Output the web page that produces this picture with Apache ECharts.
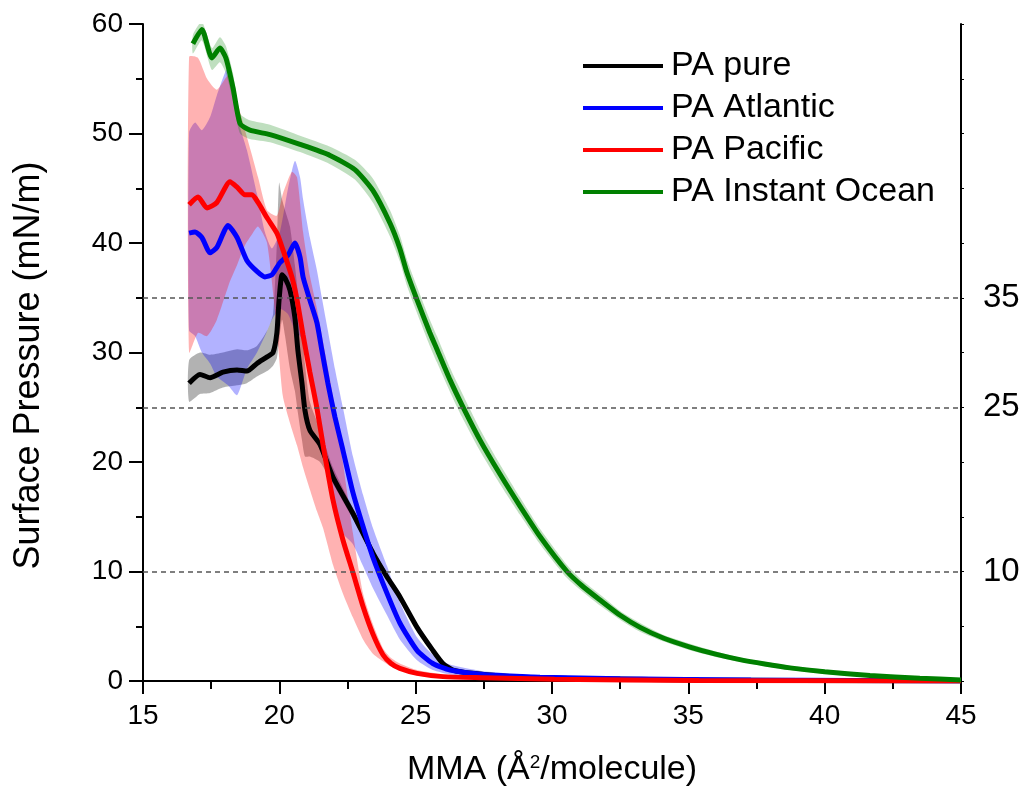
<!DOCTYPE html>
<html>
  <head>
    <meta charset="utf-8" />
    <title>PA isotherms</title>
    <style>
      body { margin: 0; background: #fff; }
    </style>
  </head>
  <body>
    <div id="main" style="width: 1022px; height: 786px"></div>
    <script type="text/javascript" src="https://cdn.jsdelivr.net/npm/echarts/dist/echarts.min.js"></script>
    <script type="text/javascript">
      // PA pure
      var pureX = [16.69, 17.09, 17.46, 17.93, 18.45, 18.81, 19.18, 19.55, 19.77, 19.91, 19.99, 20.1, 20.21, 20.39, 20.57, 20.68, 20.83, 20.94, 21.12, 21.49, 21.97, 22.7, 23.43, 23.95, 24.42, 25.05, 25.63, 26.0, 26.37, 27.1, 28.8, 31.76, 35.4, 39.1, 45];
      var pureY = [27.2, 28.0, 27.7, 28.2, 28.4, 28.3, 29.0, 29.6, 30.0, 31.8, 34.8, 37.1, 36.8, 35.7, 33.2, 30.2, 27.2, 24.7, 22.9, 21.6, 18.6, 15.3, 11.7, 9.5, 7.7, 4.9, 2.8, 1.6, 1.0, 0.7, 0.35, 0.2, 0.1, 0.05, 0];
      var pureLo = [25.5, 26.2, 26.3, 26.8, 27.0, 27.2, 27.8, 28.3, 28.8, 29.5, 31.0, 33.0, 31.5, 28.5, 26.5, 24.5, 22.0, 20.5, 20.5, 20.0, 18.0, 14.8, 11.3, 9.1, 7.3, 4.6, 2.5, 1.4, 0.8, 0.55, 0.25, 0.1, 0.05, 0, 0];
      var pureHi = [29.3, 30.0, 29.8, 30.0, 30.3, 30.2, 30.6, 32.0, 33.5, 40.0, 45.5, 44.0, 43.0, 41.5, 38.0, 35.5, 32.5, 29.0, 25.5, 23.0, 19.5, 15.8, 12.1, 9.9, 8.1, 5.2, 3.1, 1.8, 1.2, 0.85, 0.45, 0.3, 0.15, 0.1, 0];

      // PA Atlantic
      var atlX = [16.69, 16.91, 17.16, 17.46, 17.71, 18.12, 18.45, 18.81, 19.18, 19.47, 19.73, 20.02, 20.32, 20.57, 20.76, 20.87, 21.12, 21.38, 21.56, 21.78, 22.04, 22.33, 22.7, 23.07, 23.43, 23.95, 24.42, 25.05, 25.63, 26.26, 27.47, 29.56, 32.5, 37.3, 45];
      var atlY = [40.9, 41.0, 40.5, 39.1, 39.6, 41.6, 40.5, 38.4, 37.4, 36.9, 37.1, 38.2, 38.9, 40.0, 38.7, 36.9, 34.8, 32.7, 30.2, 27.2, 24.1, 21.1, 17.2, 14.1, 11.3, 8.0, 5.3, 2.8, 1.6, 1.0, 0.6, 0.35, 0.2, 0.1, 0];
      var atlLo = [32.0, 31.5, 30.0, 29.0, 27.8, 27.0, 26.1, 28.5, 30.0, 31.5, 33.0, 34.0, 33.5, 32.0, 31.5, 31.0, 28.0, 25.0, 22.5, 19.5, 16.0, 13.5, 12.5, 10.5, 8.5, 6.0, 3.8, 1.9, 1.0, 0.6, 0.35, 0.2, 0.1, 0.05, 0];
      var atlHi = [50.1, 51.0, 50.3, 51.5, 53.5, 56.0, 51.5, 48.5, 44.5, 41.0, 39.5, 41.0, 45.0, 47.5, 46.0, 44.0, 40.5, 37.5, 35.0, 32.0, 28.5, 25.0, 20.5, 17.0, 14.0, 10.5, 7.2, 4.0, 2.4, 1.5, 0.9, 0.55, 0.35, 0.2, 0.05];

      // PA Pacific
      var pacX = [16.69, 17.02, 17.35, 17.71, 18.19, 18.45, 18.74, 19.0, 19.22, 19.55, 19.91, 20.13, 20.46, 20.65, 20.87, 21.12, 21.38, 21.6, 21.97, 22.33, 22.7, 23.07, 23.43, 23.8, 24.1, 24.42, 25.05, 26.0, 27.47, 30.1, 35.4, 45];
      var pacY = [43.5, 44.2, 43.2, 43.7, 45.6, 45.1, 44.4, 44.4, 43.7, 42.3, 40.9, 39.4, 36.9, 34.8, 31.6, 28.2, 24.9, 21.6, 16.5, 12.9, 9.9, 6.8, 4.3, 2.4, 1.6, 1.15, 0.7, 0.4, 0.3, 0.15, 0.05, 0];
      var pacLo = [30.0, 31.8, 31.5, 33.0, 36.5, 38.0, 39.8, 40.8, 41.5, 40.0, 32.0, 26.0, 23.0, 21.5, 19.5, 17.5, 15.5, 14.0, 10.6, 8.0, 5.8, 3.8, 2.5, 1.8, 1.3, 1.0, 0.5, 0.3, 0.2, 0.1, 0, 0];
      var pacHi = [57.0, 56.9, 55.0, 54.0, 55.5, 53.0, 50.3, 48.0, 46.0, 43.0, 42.5, 44.5, 46.5, 46.0, 41.0, 37.0, 34.0, 31.0, 26.0, 20.0, 13.5, 8.0, 5.2, 3.0, 2.1, 1.6, 1.0, 0.6, 0.4, 0.2, 0.1, 0];

      // PA Instant Ocean
      var ioX = [16.83, 17.16, 17.53, 17.82, 18.04, 18.3, 18.56, 18.92, 19.66, 20.76, 21.86, 22.77, 23.43, 24.06, 24.42, 24.68, 25.05, 25.52, 25.78, 26.26, 26.7, 27.36, 28.09, 28.82, 29.56, 30.55, 31.1, 31.76, 32.5, 33.23, 34.1, 35.06, 36.0, 36.89, 37.8, 38.73, 40.0, 41.66, 43.49, 45.0];
      var ioY = [58.2, 59.5, 56.9, 57.8, 56.9, 54.2, 50.9, 50.3, 49.9, 49.0, 48.0, 46.7, 44.8, 41.8, 39.5, 37.3, 34.8, 31.8, 30.3, 27.5, 25.2, 22.0, 18.9, 16.0, 13.2, 10.0, 8.7, 7.4, 6.0, 4.9, 3.9, 3.1, 2.45, 1.95, 1.55, 1.2, 0.85, 0.5, 0.25, 0.1];
      var ioLo = [57.3, 58.5, 55.8, 56.5, 55.5, 53.0, 50.0, 49.5, 49.2, 48.3, 47.2, 45.8, 43.7, 40.6, 38.3, 36.1, 33.6, 30.6, 29.1, 26.4, 24.1, 21.0, 18.0, 15.2, 12.5, 9.4, 8.2, 6.9, 5.6, 4.5, 3.6, 2.8, 2.2, 1.75, 1.35, 1.0, 0.65, 0.35, 0.12, 0.0];
      var ioHi = [59.0, 60.2, 57.8, 58.8, 58.0, 55.5, 51.8, 51.2, 50.8, 49.8, 48.8, 47.6, 45.9, 43.0, 40.7, 38.5, 36.0, 33.0, 31.5, 28.6, 26.3, 23.0, 19.8, 16.8, 13.9, 10.6, 9.2, 7.9, 6.4, 5.3, 4.2, 3.4, 2.7, 2.15, 1.75, 1.4, 1.05, 0.65, 0.38, 0.2];

      var names = ["PA pure", "PA Atlantic", "PA Pacific", "PA Instant Ocean"];
      var refLines = [10, 25, 35];

      var font = "Liberation Sans, Arial, sans-serif";
      var myChart = echarts.init(document.getElementById("main"));

      function pts(xs, ys) {
        return xs.map(function (x, i) {
          return [x, ys[i]];
        });
      }

      // shaded band between lo and hi, drawn as one polygon
      function band(name, xs, lo, hi, fill) {
        return {
          type: "custom",
          name: name + " band",
          silent: true,
          clip: true,
          data: xs.map(function (x, i) {
            return [x, lo[i], hi[i]];
          }),
          encode: { x: 0, y: [1, 2] },
          renderItem: function (params, api) {
            if (params.dataIndex !== 0) return;
            var p = [];
            for (var i = 0; i < xs.length; i++) p.push(api.coord([xs[i], hi[i]]));
            for (var j = xs.length - 1; j >= 0; j--) p.push(api.coord([xs[j], lo[j]]));
            return {
              type: "polygon",
              shape: { points: p, smooth: 0.2 },
              style: { fill: fill },
            };
          },
        };
      }

      function line(name, xs, ys, color) {
        return {
          type: "line",
          name: name,
          data: pts(xs, ys),
          showSymbol: false,
          smooth: 0.2,
          color: color,
          lineStyle: { width: 5, color: color },
        };
      }

      var option = {
        animation: false,
        backgroundColor: "#fff",
        grid: { left: 143, right: 61, top: 24, bottom: 105, outerBoundsMode: "none", containLabel: false },
        legend: {
          data: names,
          orient: "vertical",
          left: 578,
          top: 44,
          icon: "rect",
          itemWidth: 80,
          itemHeight: 4,
          itemGap: 8,
          textStyle: {
            fontFamily: font,
            fontSize: 34,
            color: "#000",
            padding: [0, 0, 0, 3],
          },
        },
        xAxis: [
          {
            type: "value",
            min: 15,
            max: 45,
            interval: 5,
            name: "MMA (Å{sup|2}/molecule)",
            nameLocation: "middle",
            nameGap: 72,
            nameTextStyle: {
              fontFamily: font,
              fontSize: 34,
              color: "#000",
              rich: {
                sup: { fontFamily: font, fontSize: 19, verticalAlign: "top", lineHeight: 22 },
              },
            },
            axisLine: { lineStyle: { color: "#000", width: 2 } },
            axisTick: { length: 13, lineStyle: { color: "#000", width: 2 } },
            minorTick: { show: true, splitNumber: 2, length: 8, lineStyle: { color: "#000", width: 2 } },
            axisLabel: { fontFamily: font, fontSize: 28, color: "#000", margin: 21 },
            splitLine: { show: false },
          },
          {
            type: "value",
            position: "top",
            min: 15,
            max: 45,
            interval: 5,
            axisLine: { lineStyle: { color: "#000", width: 2 } },
            axisTick: { inside: true, length: 3, lineStyle: { color: "#000", width: 1 } },
            minorTick: { show: true, splitNumber: 2, length: 3, lineStyle: { color: "#000", width: 1 } },
            axisLabel: { show: false },
            splitLine: { show: false },
          },
        ],
        yAxis: [
          {
            type: "value",
            min: 0,
            max: 60,
            interval: 10,
            name: "Surface Pressure (mN/m)",
            nameLocation: "middle",
            nameGap: 96,
            nameTextStyle: { fontFamily: font, fontSize: 36, color: "#000", padding: [0, 26, 0, 0] },
            axisLine: { show: true, lineStyle: { color: "#000", width: 2 } },
            axisTick: { show: true, length: 14, lineStyle: { color: "#000", width: 2 } },
            minorTick: { show: true, splitNumber: 2, length: 7, lineStyle: { color: "#000", width: 2 } },
            axisLabel: { fontFamily: font, fontSize: 28, color: "#000", margin: 20 },
            splitLine: { show: false },
          },
          {
            type: "value",
            position: "right",
            min: 0,
            max: 60,
            interval: 5,
            axisLine: { show: true, lineStyle: { color: "#000", width: 2 } },
            axisTick: { show: true, length: 3, lineStyle: { color: "#000", width: 1 } },
            axisLabel: {
              fontFamily: font,
              fontSize: 33,
              color: "#000",
              margin: 22,
              formatter: function (v) {
                return refLines.indexOf(v) >= 0 ? String(v) : "";
              },
            },
            splitLine: { show: false },
          },
        ],
        series: [
          {
            type: "line",
            name: "ref",
            data: [],
            silent: true,
            markLine: {
              silent: true,
              symbol: "none",
              label: { show: false },
              lineStyle: { type: [5, 4], color: "#555", width: 1.5 },
              data: refLines.map(function (v) {
                return { yAxis: v };
              }),
            },
          },
          band(names[0], pureX, pureLo, pureHi, "rgba(0,0,0,0.3)"),
          line(names[0], pureX, pureY, "#000000"),
          band(names[1], atlX, atlLo, atlHi, "rgba(0,0,255,0.3)"),
          line(names[1], atlX, atlY, "#0000ff"),
          band(names[2], pacX, pacLo, pacHi, "rgba(255,0,0,0.3)"),
          line(names[2], pacX, pacY, "#ff0000"),
          band(names[3], ioX, ioLo, ioHi, "rgba(0,128,0,0.25)"),
          line(names[3], ioX, ioY, "#008000"),
        ],
      };
      myChart.setOption(option);
    </script>
  </body>
</html>
